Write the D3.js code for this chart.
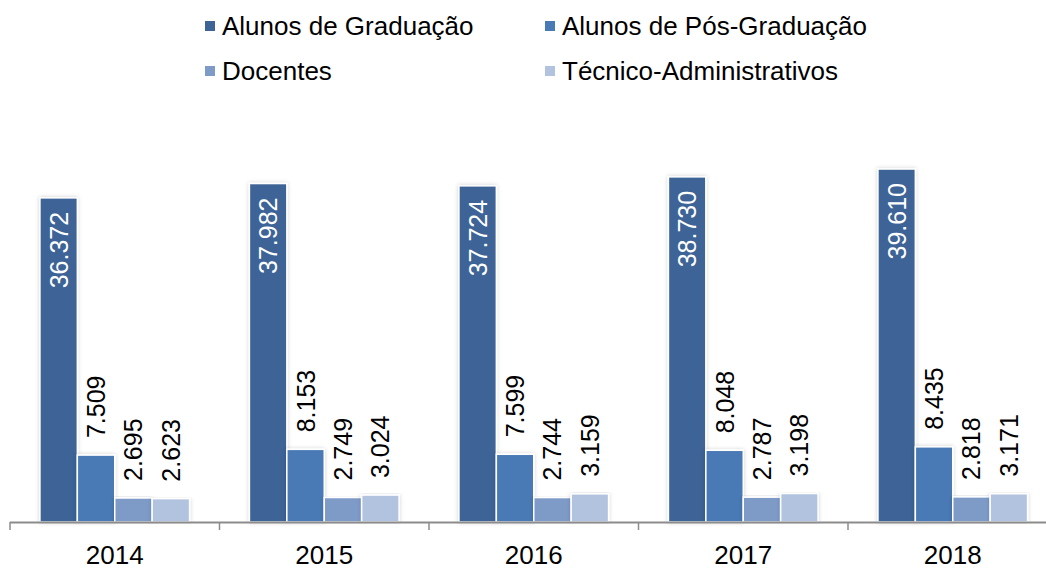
<!DOCTYPE html>
<html>
<head>
<meta charset="utf-8">
<script src="https://cdn.jsdelivr.net/npm/d3@7"></script>
<style>
  body { margin: 0; background: #fff; }
  text { font-family: "Liberation Sans", Arial, sans-serif; }
</style>
</head>
<body>
<svg id="chart" width="1046" height="568"></svg>
<script>
// data
const years = ["2014", "2015", "2016", "2017", "2018"];
const seriesNames = ["Alunos de Graduação", "Alunos de Pós-Graduação", "Docentes", "Técnico-Administrativos"];
const graduacao = [36372, 37982, 37724, 38730, 39610];
const posGraduacao = [7509, 8153, 7599, 8048, 8435];
const docentes = [2695, 2749, 2744, 2787, 2818];
const tecnicos = [2623, 3024, 3159, 3198, 3171];
const seriesColors = ["#3e6497", "#4a7ab5", "#7e9bc8", "#b2c3df"];

const seriesValues = [graduacao, posGraduacao, docentes, tecnicos];
const rows = years.map((year, i) => ({
  year: year,
  values: seriesNames.map((name, s) => ({ name: name, s: s, value: seriesValues[s][i] }))
}));

const svg = d3.select("#chart");
const width = 1046;
const baseY = 522;

// defs: faint shadow around the bars
const defs = svg.append("defs");
const shadow = defs.append("filter").attr("id", "shadow")
  .attr("x", "-20%").attr("y", "-5%").attr("width", "140%").attr("height", "110%");
shadow.append("feDropShadow")
  .attr("dx", 0).attr("dy", 0).attr("stdDeviation", 2)
  .attr("flood-color", "#000").attr("flood-opacity", 0.18);

const x0 = d3.scaleBand()
  .domain(years)
  .range([10, 10 + 209.5 * years.length]);

const x1 = d3.scaleBand()
  .domain(seriesNames)
  .range([0, x0.bandwidth()])
  .paddingOuter(0.8);

const y = d3.scaleLinear()
  .domain([0, 45000])
  .range([baseY, 121]);

const fmt = d3.formatLocale({ decimal: ",", thousands: ".", grouping: [3], currency: ["R$", ""] }).format(",d");

const color = d3.scaleOrdinal().domain(seriesNames).range(seriesColors);

// bars
const groups = svg.append("g").selectAll("g")
  .data(rows)
  .join("g")
  .attr("transform", d => `translate(${x0(d.year)},0)`);

groups.selectAll("rect")
  .data(d => d.values)
  .join("rect")
  .attr("x", d => x1(d.name))
  .attr("y", d => y(d.value))
  .attr("width", x1.bandwidth())
  .attr("height", d => baseY - y(d.value))
  .attr("fill", d => color(d.name))
  .attr("stroke", "#fff")
  .attr("stroke-width", 1.5)
  .attr("filter", "url(#shadow)");

// value labels (rotated)
groups.selectAll("text.value")
  .data(d => d.values)
  .join("text")
  .attr("class", "value")
  .attr("transform", d => {
    const cx = x1(d.name) + x1.bandwidth() / 2;
    const ty = d.s === 0 ? y(d.value) + 14 : y(d.value) - 17;
    return `translate(${cx},${ty}) rotate(-90)`;
  })
  .attr("text-anchor", d => d.s === 0 ? "end" : "start")
  .attr("dy", "0.36em")
  .attr("font-size", 25)
  .attr("fill", d => d.s === 0 ? "#fff" : "#000")
  .text(d => fmt(d.value));

// x axis
const xAxis = svg.append("g")
  .attr("transform", `translate(0,${baseY})`);
xAxis.append("line")
  .attr("x1", 10).attr("x2", width)
  .attr("y1", 0.5).attr("y2", 0.5)
  .attr("stroke", "#8c8c8c").attr("stroke-width", 2);
xAxis.selectAll("line.tick")
  .data(years)
  .join("line")
  .attr("class", "tick")
  .attr("x1", d => x0(d)).attr("x2", d => x0(d))
  .attr("y1", 0).attr("y2", 8)
  .attr("stroke", "#8c8c8c").attr("stroke-width", 1.5);
xAxis.selectAll("text")
  .data(years)
  .join("text")
  .attr("x", d => x0(d) + x0.bandwidth() / 2)
  .attr("y", 42)
  .attr("text-anchor", "middle")
  .attr("font-size", 26)
  .attr("fill", "#000")
  .text(d => d);

// legend, two columns by two rows
const legendX = [205, 545];
const legendY = [26, 71];
const legend = svg.append("g").selectAll("g")
  .data(seriesNames)
  .join("g")
  .attr("transform", (d, i) => `translate(${legendX[i % 2]},${legendY[Math.floor(i / 2)]})`);
legend.append("rect")
  .attr("x", 0).attr("y", -5)
  .attr("width", 10).attr("height", 10)
  .attr("fill", d => color(d));
legend.append("text")
  .attr("x", 17).attr("y", 0)
  .attr("dy", "0.35em")
  .attr("font-size", 26)
  .attr("fill", "#000")
  .text(d => d);
</script>
</body>
</html>
